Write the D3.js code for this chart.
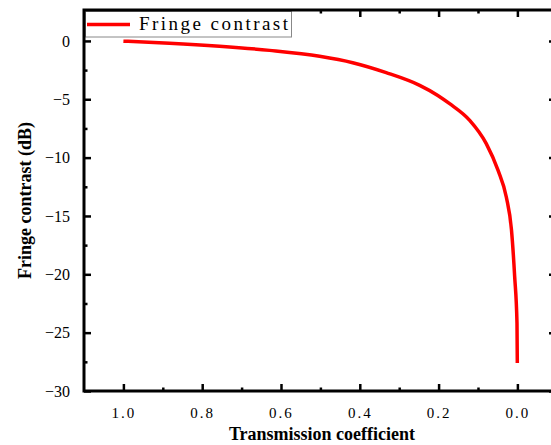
<!DOCTYPE html>
<html>
<head>
<meta charset="utf-8">
<script src="https://cdn.jsdelivr.net/npm/d3@7"></script>
<style>
body { margin: 0; background: #fff; }
svg { display: block; }
</style>
</head>
<body>
<svg id="chart" width="551" height="445"></svg>
<script>
// values (transmission coefficient -> fringe contrast in dB)
var transmission = [1.0, 0.883, 0.756, 0.629, 0.502, 0.418, 0.333, 0.248, 0.202, 0.172, 0.121, 0.079, 0.049, 0.028, 0.015, 0.0069, 0.001, 0.0002];
var contrast = [-0.02, -0.19, -0.45, -0.81, -1.32, -1.87, -2.72, -3.81, -4.67, -5.38, -6.81, -8.8, -11.1, -13.4, -16.2, -20.2, -24.2, -27.6];
var xTicks = [1.0, 0.8, 0.6, 0.4, 0.2, 0.0];
var xMinor = [0.9, 0.7, 0.5, 0.3, 0.1];
var yTicks = [0, -5, -10, -15, -20, -25, -30];
var yMinor = [-2.5, -7.5, -12.5, -17.5, -22.5, -27.5];
var seriesName = "Fringe contrast";

var svg = d3.select("#chart");
var plotL = 84, plotR = 556, plotT = 10, plotB = 391;

var x = d3.scaleLinear().domain([1.1, -0.098]).range([plotL, plotR]);
var y = d3.scaleLinear().domain([-30, 2.65]).range([plotB, plotT]);

var pts = transmission.map((t, i) => ({t: t, v: contrast[i]}));

// curve
var line = d3.line().x(d => x(d.t)).y(d => y(d.v)).curve(d3.curveMonotoneX);
svg.append("path").datum(pts)
  .attr("d", line)
  .attr("fill", "none")
  .attr("stroke", "#ff0000")
  .attr("stroke-width", 3.5);

function styleAxis(g) {
  g.select(".domain").remove();
  g.selectAll(".tick line").attr("stroke", "#000").attr("stroke-width", 2.5);
}

// major + minor ticks, all pointing inward
var gb = svg.append("g").attr("transform", "translate(0," + plotB + ")")
  .call(d3.axisBottom(x).tickValues(xTicks).tickSize(-7).tickPadding(16).tickFormat(d3.format(".1f")));
styleAxis(gb);
gb.selectAll(".tick text")
  .attr("font-family", "Liberation Serif, serif").attr("font-size", 15)
  .attr("letter-spacing", "2px").attr("fill", "#000");
svg.append("g").attr("transform", "translate(0," + plotB + ")")
  .call(d3.axisBottom(x).tickValues(xMinor).tickSize(-3.5).tickFormat(""))
  .call(styleAxis);

svg.append("g").attr("transform", "translate(0," + plotT + ")")
  .call(d3.axisTop(x).tickValues(xTicks).tickSize(-7).tickFormat(""))
  .call(styleAxis);
svg.append("g").attr("transform", "translate(0," + plotT + ")")
  .call(d3.axisTop(x).tickValues(xMinor).tickSize(-3.5).tickFormat(""))
  .call(styleAxis);

var gl = svg.append("g").attr("transform", "translate(" + plotL + ",0)")
  .call(d3.axisLeft(y).tickValues(yTicks).tickSize(-7).tickPadding(14).tickFormat(d3.format("d")));
styleAxis(gl);
gl.selectAll(".tick text")
  .attr("font-family", "Liberation Serif, serif").attr("font-size", 16).attr("fill", "#000");
svg.append("g").attr("transform", "translate(" + plotL + ",0)")
  .call(d3.axisLeft(y).tickValues(yMinor).tickSize(-3.5).tickFormat(""))
  .call(styleAxis);

svg.append("g").attr("transform", "translate(" + plotR + ",0)")
  .call(d3.axisRight(y).tickValues(yTicks).tickSize(-7).tickFormat(""))
  .call(styleAxis);
svg.append("g").attr("transform", "translate(" + plotR + ",0)")
  .call(d3.axisRight(y).tickValues(yMinor).tickSize(-3.5).tickFormat(""))
  .call(styleAxis);

// legend
var lg = svg.append("g");
lg.append("rect")
  .attr("x", plotL + 1.5).attr("y", plotT + 1.5).attr("width", 206).attr("height", 25.5)
  .attr("fill", "#fff").attr("stroke", "#888").attr("stroke-width", 1);
lg.append("line")
  .attr("x1", 87).attr("x2", 130).attr("y1", 24.5).attr("y2", 24.5)
  .attr("stroke", "#ff0000").attr("stroke-width", 3.5);
lg.append("text")
  .attr("x", 139).attr("y", 30)
  .attr("font-family", "Liberation Serif, serif").attr("font-size", 19)
  .attr("textLength", 149).attr("lengthAdjust", "spacing")
  .text(seriesName);

// frame
svg.append("rect")
  .attr("x", plotL).attr("y", plotT)
  .attr("width", plotR - plotL).attr("height", plotB - plotT)
  .attr("fill", "none").attr("stroke", "#000").attr("stroke-width", 3);

// axis titles
svg.append("text")
  .attr("x", 322).attr("y", 440)
  .attr("text-anchor", "middle")
  .attr("font-family", "Liberation Serif, serif").attr("font-size", 18).attr("font-weight", "bold")
  .text("Transmission coefficient");
svg.append("text")
  .attr("transform", "translate(31," + (plotT + plotB) / 2 + ") rotate(-90)")
  .attr("text-anchor", "middle")
  .attr("font-family", "Liberation Serif, serif").attr("font-size", 18).attr("font-weight", "bold")
  .text("Fringe contrast (dB)");
</script>
</body>
</html>
